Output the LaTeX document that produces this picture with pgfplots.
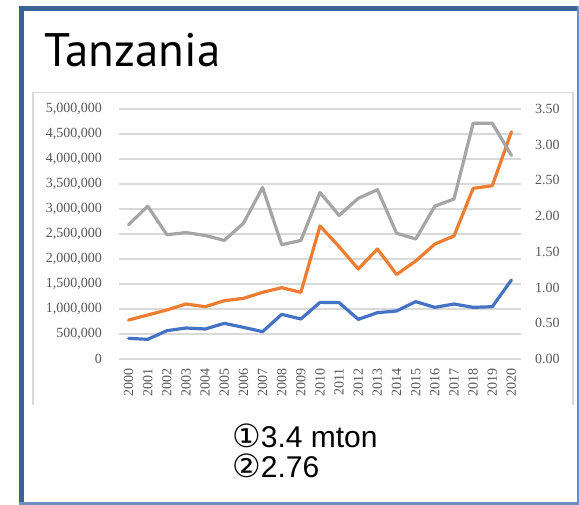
\documentclass[border=0pt]{standalone}
\usepackage{fontspec}
\setmainfont{Liberation Serif}
\newfontfamily\titlefont{PT Sans}
\newfontfamily\notefont{Liberation Sans}
\newfontfamily\symfont{DejaVu Sans}
\usepackage{pgfplots}
\pgfplotsset{compat=1.18}

\definecolor{frameblue}{HTML}{3C6195}
\definecolor{frameedge}{HTML}{6A8FC0}
\definecolor{boxgray}{HTML}{D9D9D9}
\definecolor{gridgray}{HTML}{D9D9D9}
\definecolor{labelgray}{HTML}{595959}
\definecolor{xlblue}{HTML}{4472C4}
\definecolor{xlorange}{HTML}{ED7D31}
\definecolor{xlgray}{HTML}{A5A5A5}

\pgfplotsset{
  tanz/.style={
    at={(119pt,-359pt)}, anchor=south west,
    scale only axis, width=402pt, height=250pt,
    xmin=1999.5, xmax=2020.5,
    major tick length=0pt,
    axis line style={draw=none},
    tick label style={font=\fontsize{14}{16}\selectfont, text=labelgray, inner sep=0pt},
    /pgf/number format/assume math mode=true,
  }
}
\newcommand{\circnum}[1]{{\symfont\fontsize{32}{34}\selectfont #1}}

\begin{document}
\begin{tikzpicture}[x=1pt,y=1pt]
\path[use as bounding box] (0,0) rectangle (579,-505);
% frame
\fill[frameedge] (19,-6) rectangle (579,-505);
\fill[frameblue] (19,-6) rectangle (577,-502);
\fill[white] (24,-11) rectangle (577,-502);
% chart box
\draw[boxgray, line width=1.3pt] (33,-405) -- (33,-92.5) -- (573,-92.5) -- (573,-405);

\node[anchor=base west, inner sep=0pt] at (44,-67) {\titlefont\fontsize{47}{50}\selectfont Tanzania};

\begin{axis}[tanz,
    ymin=0, ymax=5000000,
    xtick={2000,...,2020},
    ytick={0,500000,...,5000000},
    ymajorgrids=true,
    grid style={draw=gridgray, line width=1.1pt},
    scaled y ticks=false,
    yticklabel style={/pgf/number format/fixed, /pgf/number format/1000 sep={,}},
    yticklabel shift=17pt,
    xticklabel style={rotate=90, anchor=east, /pgf/number format/1000 sep={}},
    xticklabel shift=9pt,
    every axis plot/.append style={line width=3.2pt, line join=round, line cap=round},
]
\addplot[color=xlblue] coordinates {
  (2000,413000)(2001,393000)(2002,566000)(2003,620000)(2004,600000)(2005,713000)(2006,633000)
  (2007,547000)(2008,893000)(2009,800000)(2010,1133000)(2011,1127000)(2012,793000)(2013,927000)
  (2014,960000)(2015,1147000)(2016,1033000)(2017,1100000)(2018,1033000)(2019,1046000)(2020,1580000)
};
\addplot[color=xlorange] coordinates {
  (2000,780000)(2001,880000)(2002,980000)(2003,1100000)(2004,1046000)(2005,1166000)(2006,1213000)
  (2007,1333000)(2008,1426000)(2009,1333000)(2010,2660000)(2011,2246000)(2012,1800000)(2013,2200000)
  (2014,1690000)(2015,1960000)(2016,2300000)(2017,2460000)(2018,3413000)(2019,3466000)(2020,4546000)
};
\end{axis}

\begin{axis}[tanz,
    ymin=0, ymax=3.5,
    hide x axis,
    axis y line*=right,
    ytick={0,0.5,...,3.5},
    yticklabel style={/pgf/number format/fixed, /pgf/number format/fixed zerofill, /pgf/number format/precision=2},
    yticklabel shift=14pt,
]
\addplot[color=xlgray, line width=3.2pt, line join=round, line cap=round] coordinates {
  (2000,1.88)(2001,2.14)(2002,1.74)(2003,1.77)(2004,1.73)(2005,1.66)(2006,1.90)
  (2007,2.40)(2008,1.60)(2009,1.66)(2010,2.33)(2011,2.01)(2012,2.25)(2013,2.37)
  (2014,1.76)(2015,1.68)(2016,2.14)(2017,2.24)(2018,3.30)(2019,3.30)(2020,2.85)
};
\end{axis}

\node[anchor=base west, inner sep=0pt] at (232,-447) {\circnum{①}\notefont\fontsize{30}{34}\selectfont 3.4 mton};
\node[anchor=base west, inner sep=0pt] at (232,-477) {\circnum{②}\notefont\fontsize{30}{34}\selectfont 2.76};
\end{tikzpicture}
\end{document}
